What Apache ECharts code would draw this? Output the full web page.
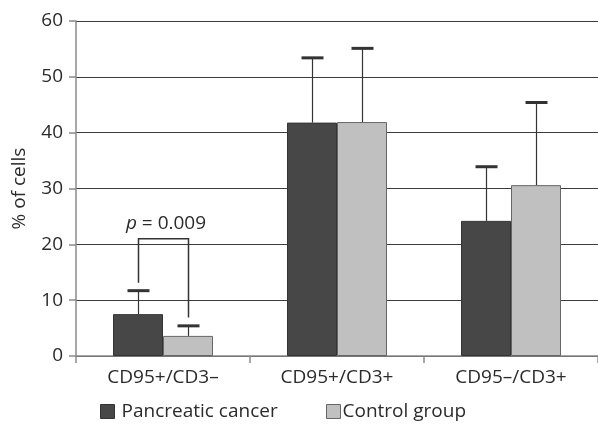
<!DOCTYPE html>
<html>
<head>
<meta charset="utf-8">
<script src="https://cdn.jsdelivr.net/npm/echarts@6/dist/echarts.min.js"></script>
<style>
html,body{margin:0;padding:0;background:#fff;}
#chart{width:598px;height:432px;}
</style>
</head>
<body>
<div id="chart"></div>
<script>
// ---- data ----
var categories = ['CD95+/CD3\u2013', 'CD95+/CD3+', 'CD95\u2013/CD3+'];
var seriesNames = ['Pancreatic cancer', 'Control group'];
var cancerMean = [7.5, 41.8, 24.2];
var cancerUpper = [11.7, 53.4, 33.9];
var controlMean = [3.6, 41.9, 30.6];
var controlUpper = [5.4, 55.1, 45.4];
var yTicks = [0, 10, 20, 30, 40, 50, 60];
// significance bracket: [categoryIndex, leftLegStart, bracketTop, rightLegEnd]
var bracket = [[0, 13.1, 21.0, 6.9]];
var bracketLabel = 'p = 0.009';
var bracketLabelValue = 23.8;

// ---- styles ----
var FONT = 'Open Sans';
var FS = 19;
var TEXT = '#2b2b2b';
var DARK = '#474747';
var LIGHT = '#c0c0c0';
var BAR_W = 50;

var chart = echarts.init(document.getElementById('chart'), null, {renderer: 'canvas'});

function errRenderer(side) {
  return function (params, api) {
    var cat = api.value(0);
    var top = api.coord([cat, api.value(2)]);
    var base = api.coord([cat, api.value(1)]);
    var x = Math.round(base[0] + side * BAR_W / 2) + 0.5;
    var capHalf = 11;
    return {
      type: 'group',
      children: [
        {type: 'line', shape: {x1: x, y1: base[1], x2: x, y2: top[1]},
         style: {stroke: '#333', lineWidth: 1.2}},
        {type: 'line', shape: {x1: x - capHalf, y1: top[1], x2: x + capHalf, y2: top[1]},
         style: {stroke: '#333', lineWidth: 3}}
      ]
    };
  };
}

function bracketRenderer(params, api) {
  var cat = api.value(0);
  var c = api.coord([cat, api.value(2)]);
  var l = api.coord([cat, api.value(1)]);
  var r = api.coord([cat, api.value(3)]);
  var xl = Math.round(c[0] - BAR_W / 2) + 0.5;
  var xr = Math.round(c[0] + BAR_W / 2) + 0.5;
  var lab = api.coord([cat, bracketLabelValue]);
  var parts = bracketLabel.split(' ');
  return {
    type: 'group',
    children: [
      {type: 'polyline', shape: {points: [[xl, l[1]], [xl, c[1]], [xr, c[1]], [xr, r[1]]]},
       style: {stroke: '#333', lineWidth: 1.5, fill: null}},
      {type: 'text', x: c[0] + 3, y: lab[1],
       style: {text: '{i|' + parts[0] + '} ' + parts.slice(1).join(' '), x: 0, y: 0,
               align: 'center', verticalAlign: 'middle',
               fill: TEXT, fontFamily: FONT, fontSize: FS,
               rich: {i: {fontStyle: 'italic', fontFamily: FONT, fontSize: FS, fill: TEXT}}}}
    ]
  };
}

var legendCommon = {
  itemWidth: 14, itemHeight: 14, icon: 'rect', padding: 0,
  textStyle: {fontFamily: FONT, fontSize: FS, color: TEXT}
};

var option = {
  backgroundColor: '#fff',
  animation: false,
  textStyle: {fontFamily: FONT},
  grid: {left: 76, right: 0, top: 21, bottom: 76, containLabel: false},
  legend: [
    Object.assign({}, legendCommon, {
      data: [{name: seriesNames[0], itemStyle: {color: DARK, borderColor: '#333', borderWidth: 1}}],
      left: 100, top: 402,
      textStyle: {fontFamily: FONT, fontSize: FS, color: TEXT, padding: [0, 0, 0, 2]}
    }),
    Object.assign({}, legendCommon, {
      data: [{name: seriesNames[1], itemStyle: {color: LIGHT, borderColor: '#666', borderWidth: 1}}],
      left: 326, top: 402,
      textStyle: {fontFamily: FONT, fontSize: FS, color: TEXT, padding: [0, 0, 0, -3]}
    })
  ],
  xAxis: {
    type: 'category',
    data: categories,
    axisLine: {lineStyle: {color: '#8a8a8a', width: 1.5}},
    axisTick: {show: true, length: 7, lineStyle: {color: '#8a8a8a', width: 1.5}},
    axisLabel: {fontFamily: FONT, fontSize: FS, color: TEXT, margin: 12},
    splitLine: {show: false}
  },
  yAxis: {
    type: 'value',
    min: 0, max: 60, interval: 10,
    name: '% of cells',
    nameLocation: 'middle',
    nameGap: 47,
    nameTextStyle: {fontFamily: FONT, fontSize: FS, color: TEXT},
    axisLine: {show: true, lineStyle: {color: '#8a8a8a', width: 1.5}},
    axisTick: {show: true, length: 7, lineStyle: {color: '#8a8a8a', width: 1.5}},
    axisLabel: {fontFamily: FONT, fontSize: FS, color: TEXT, margin: 13,
      formatter: function (v) { return yTicks.indexOf(v) >= 0 ? String(v) : ''; }},
    splitLine: {show: true, lineStyle: {color: '#3c3c3c', width: 1}}
  },
  series: [
    {name: seriesNames[0], type: 'bar', data: cancerMean, barWidth: BAR_W, barGap: '0%',
     itemStyle: {color: DARK, borderColor: '#333', borderWidth: 1}, z: 3},
    {name: seriesNames[1], type: 'bar', data: controlMean, barWidth: BAR_W, barGap: '0%',
     itemStyle: {color: LIGHT, borderColor: '#666', borderWidth: 1}, z: 3},
    {type: 'custom', renderItem: errRenderer(-1), z: 4, silent: true,
     data: categories.map(function (c, i) { return [i, cancerMean[i], cancerUpper[i]]; })},
    {type: 'custom', renderItem: errRenderer(1), z: 4, silent: true,
     data: categories.map(function (c, i) { return [i, controlMean[i], controlUpper[i]]; })},
    {type: 'custom', renderItem: bracketRenderer, z: 5, silent: true, data: bracket}
  ]
};
chart.setOption(option);
</script>
</body>
</html>
